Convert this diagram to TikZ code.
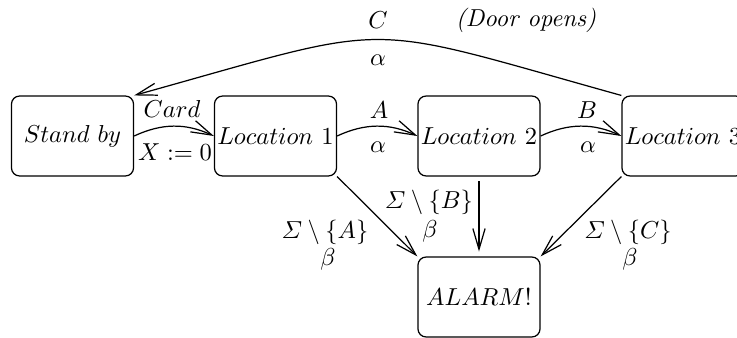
\documentclass[tikz,border=0pt]{standalone}
\usepackage{amsmath}
\usetikzlibrary{arrows.meta}
\begin{document}
\begin{tikzpicture}[x=0.408pt,y=-0.408pt,
  state/.style={draw,rounded corners=3.3pt,minimum width=49.8pt,minimum height=32.6pt,inner sep=0pt,line width=0.5pt},
  arr/.style={line width=0.5pt,-{Straight Barb[length=8.5pt,width=5pt,line width=0.5pt]}},
  lbl/.style={inner sep=0pt}]
\useasboundingbox (0,0) rectangle (737,338);
\clip (0,0) rectangle (737,338);
\node[state] (sb) at (72.5,136) {$Stand\ by$};
\node[state] (l1) at (275.5,136) {$Location\ 1$};
\node[state] (l2) at (479,136) {$Location\ 2$};
\node[state] (l3) at (683,136) {$Location\ 3$};
\node[state] (al) at (479,297) {$ALARM!$};
% edges
\draw[arr] (sb.east) .. controls +(28,-13) and +(-28,-13) .. (l1.west);
\draw[arr] (l1.east) .. controls +(28,-13) and +(-28,-13) .. (l2.west);
\draw[arr] (l2.east) .. controls +(28,-13) and +(-28,-13) .. (l3.west);
\draw[arr] (l3.north west) .. controls (354,21) and (402,21) .. (sb.north east);
\draw[arr] (l1.south east) -- (al.north west);
\draw[arr,shorten <=2pt,shorten >=2pt] (l2.south) -- (al.north);
\draw[arr] (l3.south west) -- (al.north east);
% labels
\node[lbl] (tC) at (378,20) {$C$};
\node[lbl] (tCa) at (378,60) {$\alpha$};
\node[lbl] (tdoor) at (526,20) {\textit{(Door opens)}};
\node[lbl] (tcard) at (172,109) {$Card$};
\node[lbl] (tx) at (175,152) {$X := 0$};
\node[lbl] (tA) at (379,110) {$A$};
\node[lbl] (tAa) at (378,147) {$\alpha$};
\node[lbl] (tB) at (587,110) {$B$};
\node[lbl] (tBa) at (588,147) {$\alpha$};
\node[lbl] (sA) at (325,232) {$\varSigma \setminus \{A\}$};
\node[lbl] (sAb) at (328,259) {$\beta$};
\node[lbl] (sB) at (429,202) {$\varSigma \setminus \{B\}$};
\node[lbl] (sBb) at (430,231) {$\beta$};
\node[lbl] (sC) at (628,232) {$\varSigma \setminus \{C\}$};
\node[lbl] (sCb) at (630,259) {$\beta$};
\end{tikzpicture}
\end{document}
